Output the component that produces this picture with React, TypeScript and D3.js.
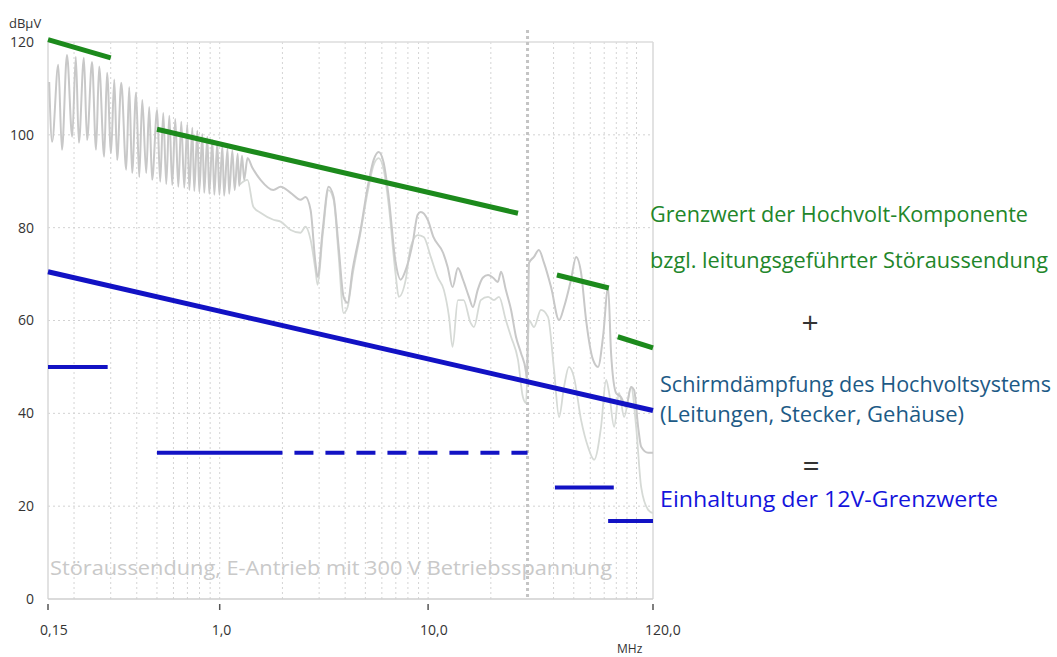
import React from 'react';
import * as d3 from 'd3';

// ---------- data ----------
const yTickValues = [0, 20, 40, 60, 80, 100, 120];
const xTickValues = [0.15, 1, 10, 120];
const xTickLabels = ['0,15', '1,0', '10,0', '120,0'];
const bandEdge = 30; // MHz

// measured spectrum, peak detector (upper grey trace) [MHz, dBµV]
const traceA: [number, number][] = [
  [0.152, 111.4], [0.157, 98.5], [0.168, 115.1], [0.175, 96.8], [0.185, 117.2], [0.196, 99.6],
  [0.204, 116.8], [0.211, 98.3], [0.223, 116.6], [0.231, 98.9], [0.244, 115.7], [0.255, 96.8],
  [0.264, 114.7], [0.279, 95.3], [0.288, 113.4], [0.301, 96.1], [0.312, 111.9], [0.322, 94.6],
  [0.337, 111.2], [0.356, 92.5], [0.368, 110.3], [0.38, 91.8], [0.397, 109.1], [0.411, 90.9],
  [0.425, 107.5], [0.444, 91.8], [0.459, 106.0], [0.474, 90.3], [0.501, 105.4], [0.518, 89.9],
  [0.536, 104.7], [0.554, 89.4], [0.573, 104.1], [0.592, 89.2], [0.612, 103.4], [0.633, 88.8],
  [0.654, 102.8], [0.676, 88.6], [0.699, 102.2], [0.715, 88.1], [0.739, 101.5], [0.755, 87.9],
  [0.781, 100.9], [0.798, 87.7], [0.825, 100.2], [0.843, 87.5], [0.872, 99.6], [0.891, 87.3],
  [0.922, 98.9], [0.942, 87.1], [0.974, 98.3], [0.996, 87.1], [1.03, 97.6], [1.05, 86.9],
  [1.09, 97.0], [1.11, 87.3], [1.15, 96.6], [1.18, 88.1], [1.22, 95.9], [1.24, 89.0],
  [1.28, 95.5], [1.31, 90.3], [1.36, 95.0], [1.435, 92.9], [1.57, 90.3], [1.81, 88.1],
  [1.96, 88.8], [2.19, 87.5], [2.44, 86.0], [2.58, 86.6], [2.73, 83.8], [2.88, 72.4],
  [2.95, 69.4], [3.12, 79.5], [3.33, 88.8], [3.52, 86.6], [3.72, 75.9], [3.93, 65.1],
  [4.11, 63.8], [4.34, 70.9], [4.74, 79.5], [5.13, 88.8], [5.48, 94.6], [5.79, 96.3],
  [6.12, 94.0], [6.47, 86.6], [6.99, 72.4], [7.39, 68.8], [7.81, 70.9], [8.43, 76.7],
  [8.91, 82.8], [9.22, 83.4], [9.96, 81.7], [10.6, 78.0], [11.8, 74.6], [12.4, 71.6],
  [13.1, 67.2], [13.9, 71.3], [14.7, 68.8], [15.7, 65.1], [16.4, 62.9], [17.3, 66.6],
  [18.3, 69.2], [19.4, 69.8], [20.5, 69.2], [21.6, 68.3], [22.4, 70.5], [23.6, 66.6],
  [25.0, 62.3], [26.4, 56.5], [27.9, 53.0], [29.5, 48.9], [29.8, 47.2], [30.5, 72.4],
  [32.2, 73.7], [34.0, 75.2], [36.0, 72.4], [38.9, 67.2], [42.5, 60.1], [44.9, 62.9],
  [48.5, 68.8], [51.3, 73.7], [54.2, 70.3], [57.3, 60.1], [61.9, 51.5], [65.4, 50.0],
  [69.1, 56.5], [73.1, 67.2], [75.5, 53.0], [79.8, 44.4], [84.3, 43.5], [89.1, 41.4],
  [94.2, 45.7], [97.4, 45.0], [101.8, 37.1], [105.3, 32.8], [113.8, 31.5], [120, 31.5],
];

// measured spectrum, lower grey trace [MHz, dBµV]
const traceB: [number, number][] = [
  [1.24, 89.2], [1.36, 90.3], [1.45, 84.5], [1.57, 83.2], [1.81, 81.7], [1.96, 81.3],
  [2.19, 79.5], [2.44, 78.9], [2.58, 80.2], [2.73, 77.4], [2.88, 70.9], [2.95, 67.7],
  [3.12, 78.4], [3.33, 88.1], [3.52, 86.0], [3.72, 74.1], [3.93, 61.6], [4.11, 62.9],
  [4.34, 69.8], [4.74, 78.9], [5.13, 87.7], [5.48, 93.5], [5.79, 95.0], [6.12, 92.5],
  [6.47, 84.9], [6.99, 69.8], [7.23, 65.1], [7.81, 68.8], [8.25, 75.9], [8.91, 78.4],
  [9.53, 78.0], [10.3, 73.7], [11.1, 69.4], [11.9, 66.6], [12.6, 60.8], [13.1, 54.3],
  [13.9, 64.4], [14.8, 64.4], [16.0, 59.5], [16.6, 58.6], [17.9, 64.4], [19.4, 65.1],
  [20.7, 64.4], [21.9, 65.1], [23.6, 60.1], [25.0, 56.5], [27.0, 51.5], [28.5, 43.5],
  [29.5, 42.2], [30.5, 60.1], [32.2, 58.6], [34.8, 62.3], [37.6, 60.8], [40.2, 49.4],
  [42.5, 39.2], [44.9, 45.7], [47.4, 50.0], [50.1, 47.8], [54.2, 38.6], [58.5, 32.8],
  [62.6, 30.0], [67.6, 37.1], [71.5, 47.2], [73.9, 44.4], [78.1, 37.1], [82.5, 44.4],
  [87.2, 39.2], [94.2, 45.7], [99.6, 37.1], [105.3, 24.1], [113.8, 19.2], [120, 18.5],
];

// HV component limit (green)
const greenLimits: [number, number][][] = [
  [[0.15, 120.5], [0.3, 116.6]],
  [[0.5, 101.2], [27, 83.1]],
  [[41.5, 69.8], [73.6, 67.0]],
  [[81.3, 56.5], [120, 54.1]],
];
// shielding attenuation (blue diagonal)
const shieldLine: [number, number][] = [[0.15, 70.5], [120, 40.6]];
// 12 V limits (blue, solid)
const blueLimits: [number, number][][] = [
  [[0.15, 50.0], [0.29, 50.0]],
  [[0.5, 31.5], [2.0, 31.5]],
  [[40.6, 24.0], [77.8, 24.0]],
  [[73.1, 16.8], [120, 16.8]],
];
// 12 V limit (blue, dashed)
const blueDashed: [number, number][] = [[2.0, 31.5], [30, 31.5]];

const noteLines = [
  'Grenzwert der Hochvolt-Komponente',
  'bzgl. leitungsgeführter Störaussendung',
  '+',
  'Schirmdämpfung des Hochvoltsystems',
  '(Leitungen, Stecker, Gehäuse)',
  '=',
  'Einhaltung der  12V-Grenzwerte',
];
const watermark = 'Störaussendung, E-Antrieb mit 300 V Betriebsspannung';

// ---------- chart ----------
const W = 1057;
const H = 657;
const x = d3.scaleLog().domain([0.15, 120]).range([48, 653]);
const y = d3.scaleLinear().domain([0, 120]).range([599, 42]);

const line = d3
  .line<[number, number]>()
  .x((d) => x(d[0]))
  .y((d) => y(d[1]));
const smooth = d3
  .line<[number, number]>()
  .x((d) => x(d[0]))
  .y((d) => y(d[1]))
  .curve(d3.curveMonotoneX);

const GREEN = '#1c8a1c';
const BLUE = '#1212c4';
const FONT = "'Open Sans', 'Noto Sans', sans-serif";

export default function App() {
  const minor = x.ticks();
  const noteStyle = [
    { x: 650, y: 222, len: 378, color: '#22862a', size: 22 },
    { x: 650, y: 268, len: 398, color: '#22862a', size: 22 },
    { x: 810, y: 333, len: 0, color: '#333', size: 30 },
    { x: 660, y: 392, len: 391, color: '#1d5a86', size: 21 },
    { x: 660, y: 422, len: 304, color: '#1d5a86', size: 21 },
    { x: 811, y: 476, len: 0, color: '#333', size: 30 },
    { x: 660, y: 507, len: 338, color: '#1414dc', size: 21 },
  ];
  return (
    <svg
      width={W}
      height={H}
      style={{ position: 'absolute', left: 0, top: 0, background: '#fff' }}
      fontFamily={FONT}
    >
      <defs>
        <clipPath id="plot">
          <rect x={48} y={30} width={605} height={569} />
        </clipPath>
      </defs>
      {/* grid */}
      {yTickValues.filter((v) => v > 0 && v < 120).map((v) => (
        <line key={'h' + v} x1={48} x2={653} y1={y(v)} y2={y(v)} stroke="#d2d2d2" strokeWidth={1} strokeDasharray="2 3" />
      ))}
      {minor.filter((f) => f !== bandEdge).map((f) => (
        <line key={'v' + f} x1={x(f)} x2={x(f)} y1={42} y2={599} stroke="#d4d4d4" strokeWidth={1} strokeDasharray="2 3" />
      ))}
      {/* frame */}
      <line x1={48} x2={653} y1={42} y2={42} stroke="#dcdcdc" strokeWidth={1.5} />
      <line x1={48} x2={48} y1={42} y2={599} stroke="#d8d8d8" strokeWidth={1.5} />
      <line x1={653} x2={653} y1={42} y2={599} stroke="#d8d8d8" strokeWidth={1.5} />
      <line x1={48} x2={653} y1={599} y2={599} stroke="#cfcfcf" strokeWidth={1.5} />
      {/* 30 MHz boundary */}
      <line x1={x(bandEdge)} x2={x(bandEdge)} y1={30} y2={599} stroke="#c4c4c4" strokeWidth={3} strokeDasharray="3 3" />

      {/* watermark */}
      <text x={50} y={575} fontSize={20} fill="#c9c9c9" textLength={562} lengthAdjust="spacingAndGlyphs">
        {watermark}
      </text>

      {/* traces */}
      <g clipPath="url(#plot)" fill="none">
        <path d={smooth(traceB) || ''} stroke="#d6dad6" strokeWidth={1.8} />
        <path d={smooth(traceA) || ''} stroke="#c8c8c8" strokeWidth={2} />
      </g>

      {/* limits */}
      {greenLimits.map((seg, i) => (
        <path key={'g' + i} d={line(seg) || ''} stroke={GREEN} strokeWidth={5} fill="none" />
      ))}
      <path d={line(shieldLine) || ''} stroke={BLUE} strokeWidth={5} fill="none" />
      {blueLimits.map((seg, i) => (
        <path key={'b' + i} d={line(seg) || ''} stroke={BLUE} strokeWidth={4} fill="none" />
      ))}
      <path d={line(blueDashed) || ''} stroke={BLUE} strokeWidth={4} fill="none" strokeDasharray="19 12" strokeDashoffset={19} />

      {/* y axis labels */}
      <text x={9} y={28} fontSize={13} fill="#333">dBµV</text>
      {yTickValues.map((v) => (
        <text key={'yl' + v} x={34} y={y(v)} dy="0.35em" fontSize={14} fill="#333" textAnchor="end">
          {v}
        </text>
      ))}
      {/* x axis ticks/labels */}
      {xTickValues.map((f, i) => (
        <g key={'xt' + f}>
          <line x1={x(f)} x2={x(f)} y1={604} y2={610} stroke="#555" strokeWidth={1.5} />
          <text x={x(f) - 8} y={635} fontSize={14} fill="#333">
            {xTickLabels[i]}
          </text>
        </g>
      ))}
      <text x={617} y={653} fontSize={12} fill="#333">MHz</text>

      {/* annotations */}
      {noteLines.map((t, i) => {
        const s = noteStyle[i];
        return s.len > 0 ? (
          <text key={'n' + i} x={s.x} y={s.y} fontSize={s.size} fill={s.color} textLength={s.len} lengthAdjust="spacingAndGlyphs">
            {t}
          </text>
        ) : (
          <text key={'n' + i} x={s.x} y={s.y} fontSize={s.size} fill={s.color} textAnchor="middle">
            {t}
          </text>
        );
      })}
    </svg>
  );
}
